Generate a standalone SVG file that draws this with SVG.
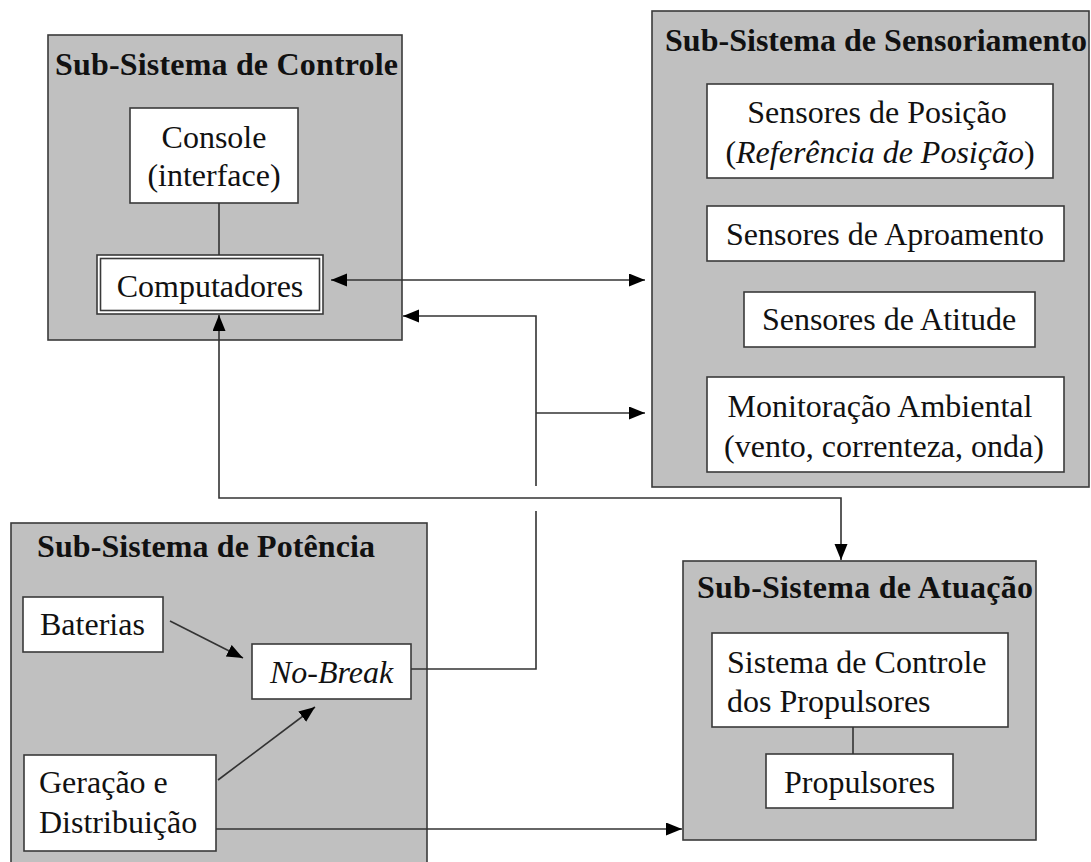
<svg xmlns="http://www.w3.org/2000/svg" width="1091" height="862" viewBox="0 0 1091 862">
<style>
.sub{fill:#c0c0c0;stroke:#3a3a3a;stroke-width:1.6}
.box{fill:#ffffff;stroke:#3a3a3a;stroke-width:1.6}
.t{font-family:"Liberation Serif","Times New Roman",serif;font-size:32px;fill:#111}
.tb{font-family:"Liberation Serif","Times New Roman",serif;font-size:32px;font-weight:bold;fill:#111}
.c{text-anchor:middle}
.i{font-style:italic}
.ln{fill:none;stroke:#333;stroke-width:1.6}
</style>
<defs>
<marker id="ah" markerUnits="userSpaceOnUse" markerWidth="18" markerHeight="14" refX="16" refY="6.5" orient="auto-start-reverse">
<path d="M0,0 L16,6.5 L0,13 z" fill="#000"/>
</marker>
</defs>
<rect width="1091" height="862" fill="#ffffff"/>

<g id="controle">
<rect class="sub" x="48" y="35" width="354" height="305"/>
<text class="tb" x="55" y="75" textLength="343" lengthAdjust="spacing">Sub-Sistema de Controle</text>
</g>
<g id="console">
<rect class="box" x="130" y="108" width="168" height="95"/>
<text class="t c" x="214" y="148">Console</text>
<text class="t c" x="214" y="186">(interface)</text>
</g>
<g id="computadores">
<rect class="box" x="97" y="255" width="226" height="59"/>
<rect class="box" x="100.5" y="258.5" width="219" height="52"/>
<text class="t c" x="210" y="297">Computadores</text>
</g>

<g id="sensoriamento">
<rect class="sub" x="652" y="11" width="437" height="476"/>
<text class="tb" x="665" y="51" textLength="422" lengthAdjust="spacing">Sub-Sistema de Sensoriamento</text>
</g>
<g id="posicao">
<rect class="box" x="707" y="84" width="346" height="94"/>
<text class="t c" x="877" y="123">Sensores de Posição</text>
<text class="t c" x="880" y="163">(<tspan class="i">Referência de Posição</tspan>)</text>
</g>
<g id="aproamento">
<rect class="box" x="707" y="206" width="357" height="55"/>
<text class="t c" x="885" y="245">Sensores de Aproamento</text>
</g>
<g id="atitude">
<rect class="box" x="744" y="292" width="291" height="55"/>
<text class="t c" x="889" y="330">Sensores de Atitude</text>
</g>
<g id="ambiental">
<rect class="box" x="707" y="377" width="357" height="95"/>
<text class="t c" x="880" y="417">Monitoração Ambiental</text>
<text class="t c" x="884" y="457">(vento, correnteza, onda)</text>
</g>

<g id="potencia">
<rect class="sub" x="11" y="523" width="416" height="345"/>
<text class="tb" x="37" y="557" textLength="338" lengthAdjust="spacing">Sub-Sistema de Potência</text>
</g>
<g id="baterias">
<rect class="box" x="23" y="597" width="140" height="55"/>
<text class="t" x="40" y="635">Baterias</text>
</g>
<g id="nobreak">
<rect class="box" x="252" y="644" width="159" height="55"/>
<text class="t i" x="270" y="683">No-Break</text>
</g>
<g id="geracao">
<rect class="box" x="24" y="755" width="192" height="96"/>
<text class="t" x="39" y="793">Geração e</text>
<text class="t" x="39" y="833">Distribuição</text>
</g>

<g id="atuacao">
<rect class="sub" x="683" y="561" width="353" height="279"/>
<text class="tb" x="697" y="598" textLength="336" lengthAdjust="spacing">Sub-Sistema de Atuação</text>
</g>
<g id="controle-propulsores">
<rect class="box" x="712" y="633" width="296" height="94"/>
<text class="t" x="727" y="673">Sistema de Controle</text>
<text class="t" x="727" y="712">dos Propulsores</text>
</g>
<g id="propulsores">
<rect class="box" x="766" y="754" width="187" height="54"/>
<text class="t" x="784" y="793">Propulsores</text>
</g>

<g id="connectors">
<line class="ln" x1="219" y1="203" x2="219" y2="255"/>
<line class="ln" x1="853" y1="727" x2="853" y2="754"/>
<line class="ln" x1="331" y1="280" x2="645" y2="280" marker-start="url(#ah)" marker-end="url(#ah)"/>
<path class="ln" d="M411,669 H536 V511"/>
<path class="ln" d="M536,486 V316 H403" marker-end="url(#ah)"/>
<path class="ln" d="M536,413 H645" marker-end="url(#ah)"/>
<path class="ln" d="M219,315 V498 H841 V560" marker-start="url(#ah)" marker-end="url(#ah)"/>
<line class="ln" x1="170" y1="621" x2="243" y2="658" marker-end="url(#ah)"/>
<line class="ln" x1="218" y1="780" x2="315" y2="707" marker-end="url(#ah)"/>
<line class="ln" x1="216" y1="829" x2="682" y2="829" marker-end="url(#ah)"/>
</g>
</svg>
